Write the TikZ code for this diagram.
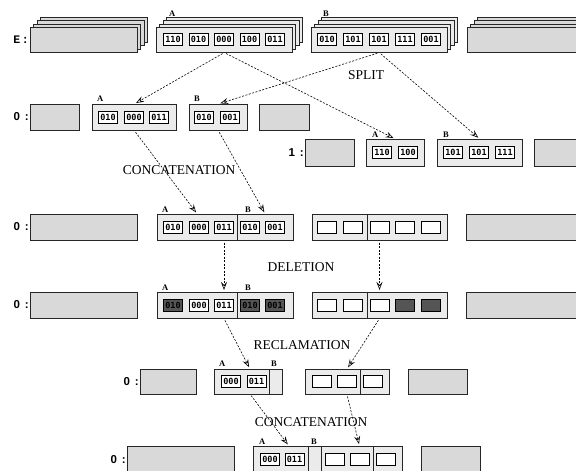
\documentclass[tikz,border=0pt]{standalone}
\usepackage{fontspec}
\setmainfont{Liberation Serif}
\newfontfamily\lsans{Liberation Sans}
\newfontfamily\cellmono{DejaVu Sans Mono}
\newfontfamily\emono{Liberation Mono}
\usetikzlibrary{arrows.meta}
\definecolor{gfill}{HTML}{D9D9D9}
\definecolor{lfill}{HTML}{EBEBEB}
\definecolor{dcell}{HTML}{555555}
\tikzset{
 gbox/.style={draw=black!85, line width=0.6pt, fill=gfill, inner sep=0, anchor=north west},
 lbox/.style={gbox, fill=lfill},
 cellbox/.style={draw=black, line width=0.8pt, fill=white, minimum width=19, minimum height=12, inner sep=0, font=\cellmono\bfseries\fontsize{8.5}{9}\selectfont},
 darkcell/.style={cellbox, fill=dcell},
 ablab/.style={font=\bfseries\fontsize{8.5}{9}\selectfont, inner sep=0, anchor=base west},
 rowlab/.style={font=\lsans\bfseries\fontsize{11.5}{12}\selectfont, inner sep=0, anchor=east},
 oplab/.style={font=\fontsize{13.5}{15}\selectfont, inner sep=0},
 arr/.style={line width=0.6pt, dash pattern=on 2pt off 1.5pt, -{Stealth[open,length=8pt,width=6pt,inset=3pt]}, shorten <=2pt, shorten >=2pt},
}
\newcommand{\stk}[5]{%
 \foreach \k in {3,2,1}{\node[#1, minimum width=#5, minimum height=25] (#2b\k) at ({#3+3.3*\k},{#4-3.3*\k}) {};}
 \node[#1, minimum width=#5, minimum height=25] (#2) at (#3,#4) {};}
\begin{document}
\begin{tikzpicture}[x=1pt,y=-1pt]
\useasboundingbox (0,0) rectangle (576,471);
\fill[white] (0,0) rectangle (576,471);
\clip (0,0) rectangle (576,471);

% ---- row E ----
\node[font=\emono\bfseries\fontsize{11.5}{12}\selectfont, inner sep=0, anchor=east] (lE) at (29,40) {E\hspace{1.5pt}:};
\stk{gbox}{stL}{30}{27}{107}
\stk{lbox}{stA}{156}{27}{136}
\stk{lbox}{stB}{311}{27}{136}
\stk{gbox}{stR}{467}{27}{140}
\node[cellbox] (eA1) at (173,39.5) {110};
\node[cellbox] (eA2) at (198.5,39.5) {010};
\node[cellbox] (eA3) at (224,39.5) {000};
\node[cellbox] (eA4) at (249.5,39.5) {100};
\node[cellbox] (eA5) at (275,39.5) {011};
\node[cellbox] (eB1) at (327,39.5) {010};
\node[cellbox] (eB2) at (353,39.5) {101};
\node[cellbox] (eB3) at (379,39.5) {101};
\node[cellbox] (eB4) at (405,39.5) {111};
\node[cellbox] (eB5) at (431,39.5) {001};
\node[ablab] (laE) at (169,16.5) {A};
\node[ablab] (lbE) at (323,16.5) {B};

% ---- row 0 (split) ----
\node[rowlab] (l0) at (29,117) {0\hspace{5pt}:};
\node[gbox, minimum width=49, minimum height=26] (r0L) at (30,104) {};
\node[lbox, minimum width=84, minimum height=26] (r0A) at (92,104) {};
\node[lbox, minimum width=58, minimum height=26] (r0B) at (189,104) {};
\node[gbox, minimum width=50, minimum height=26] (r0R) at (259,104) {};
\node[cellbox] (c0A1) at (108,117) {010};
\node[cellbox] (c0A2) at (134,117) {000};
\node[cellbox] (c0A3) at (159,117) {011};
\node[cellbox] (c0B1) at (204,117) {010};
\node[cellbox] (c0B2) at (230,117) {001};
\node[ablab] (la0) at (97,101.5) {A};
\node[ablab] (lb0) at (194,101.5) {B};

% ---- row 1 ----
\node[rowlab] (l1) at (304,153) {1\hspace{5pt}:};
\node[gbox, minimum width=49, minimum height=27] (r1L) at (305,139) {};
\node[lbox, minimum width=58, minimum height=27] (r1A) at (366,139) {};
\node[lbox, minimum width=85, minimum height=27] (r1B) at (437,139) {};
\node[gbox, minimum width=60, minimum height=27] (r1R) at (534,139) {};
\node[cellbox] (c1A1) at (382,152.5) {110};
\node[cellbox] (c1A2) at (408,152.5) {100};
\node[cellbox] (c1B1) at (453,152.5) {101};
\node[cellbox] (c1B2) at (479,152.5) {101};
\node[cellbox] (c1B3) at (505,152.5) {111};
\node[ablab] (la1) at (372,137) {A};
\node[ablab] (lb1) at (443,137) {B};

% ---- row 2 ----
\node[rowlab] (l2) at (29,227) {0\hspace{5pt}:};
\node[gbox, minimum width=107, minimum height=26] (r2L) at (30,214) {};
\node[lbox, minimum width=80, minimum height=26] (r2A) at (157,214) {};
\node[lbox, minimum width=56, minimum height=26] (r2B) at (237,214) {};
\node[lbox, minimum width=55, minimum height=26] (r2C) at (312,214) {};
\node[lbox, minimum width=80, minimum height=26] (r2D) at (367,214) {};
\node[gbox, minimum width=120, minimum height=26] (r2R) at (466,214) {};
\node[cellbox] (c2A1) at (173,227) {010};
\node[cellbox] (c2A2) at (199,227) {000};
\node[cellbox] (c2A3) at (224,227) {011};
\node[cellbox] (c2B1) at (250,227) {010};
\node[cellbox] (c2B2) at (275,227) {001};
\node[cellbox] (c2C1) at (327,227) {};
\node[cellbox] (c2C2) at (353,227) {};
\node[cellbox] (c2D1) at (379.5,227) {};
\node[cellbox] (c2D2) at (405,227) {};
\node[cellbox] (c2D3) at (431,227) {};
\node[ablab] (la2) at (162,212) {A};
\node[ablab] (lb2) at (245,212) {B};

% ---- row 3 ----
\node[rowlab] (l3) at (29,305) {0\hspace{5pt}:};
\node[gbox, minimum width=107, minimum height=26] (r3L) at (30,292) {};
\node[lbox, minimum width=80, minimum height=26] (r3A) at (157,292) {};
\node[lbox, minimum width=56, minimum height=26] (r3B) at (237,292) {};
\node[lbox, minimum width=55, minimum height=26] (r3C) at (312,292) {};
\node[lbox, minimum width=80, minimum height=26] (r3D) at (367,292) {};
\node[gbox, minimum width=120, minimum height=26] (r3R) at (466,292) {};
\node[darkcell] (c3A1) at (173,305) {010};
\node[cellbox] (c3A2) at (199,305) {000};
\node[cellbox] (c3A3) at (224,305) {011};
\node[darkcell] (c3B1) at (250,305) {010};
\node[darkcell] (c3B2) at (275,305) {001};
\node[cellbox] (c3C1) at (327,305) {};
\node[cellbox] (c3C2) at (353,305) {};
\node[cellbox] (c3D1) at (379.5,305) {};
\node[darkcell] (c3D2) at (405,305) {};
\node[darkcell] (c3D3) at (431,305) {};
\node[ablab] (la3) at (162,290) {A};
\node[ablab] (lb3) at (245,290) {B};

% ---- row 4 ----
\node[rowlab] (l4) at (139,382) {0\hspace{5pt}:};
\node[gbox, minimum width=56, minimum height=25] (r4L) at (140,369) {};
\node[lbox, minimum width=55, minimum height=25] (r4A) at (214,369) {};
\node[lbox, minimum width=13, minimum height=25] (r4B) at (269,369) {};
\node[lbox, minimum width=55, minimum height=25] (r4C) at (305,369) {};
\node[lbox, minimum width=29, minimum height=25] (r4D) at (360,369) {};
\node[gbox, minimum width=59, minimum height=25] (r4R) at (408,369) {};
\node[cellbox] (c4A1) at (231,381.5) {000};
\node[cellbox] (c4A2) at (256.5,381.5) {011};
\node[cellbox] (c4C1) at (322,381.5) {};
\node[cellbox] (c4C2) at (347,381.5) {};
\node[cellbox] (c4D1) at (373,381.5) {};
\node[ablab] (la4) at (219,366.5) {A};
\node[ablab] (lb4) at (271,366.5) {B};

% ---- row 5 ----
\node[rowlab] (l5) at (126,460) {0\hspace{5pt}:};
\node[gbox, minimum width=107, minimum height=26] (r5L) at (127,446) {};
\node[lbox, minimum width=55, minimum height=26] (r5A) at (253,446) {};
\node[lbox, minimum width=13, minimum height=26] (r5B) at (308,446) {};
\node[lbox, minimum width=52, minimum height=26] (r5C) at (321,446) {};
\node[lbox, minimum width=29, minimum height=26] (r5D) at (373,446) {};
\node[gbox, minimum width=59, minimum height=26] (r5R) at (421,446) {};
\node[cellbox] (c5A1) at (270,459) {000};
\node[cellbox] (c5A2) at (294.5,459) {011};
\node[cellbox] (c5C1) at (334.5,459) {};
\node[cellbox] (c5C2) at (359.5,459) {};
\node[cellbox] (c5D1) at (385.5,459) {};
\node[ablab] (la5) at (259,444) {A};
\node[ablab] (lb5) at (311,444) {B};

% ---- operation labels ----
\node[oplab] (opS) at (366,75) {SPLIT};
\node[oplab] (opC1) at (179,170) {CONCATENATION};
\node[oplab] (opD) at (301,267) {DELETION};
\node[oplab] (opR) at (302,345) {RECLAMATION};
\node[oplab] (opC2) at (311,422) {CONCATENATION};

% ---- arrows ----
\draw[arr] (stA.south) -- (r0A.north);
\draw[arr] (stA.south) -- (r1A.north);
\draw[arr] (stB.south) -- (r0B.north);
\draw[arr] (stB.south) -- (r1B.north);
\draw[arr] (r0A.south) -- (r2A.north);
\draw[arr] (r0B.south) -- (r2B.north);
\draw[arr] (c2A3 |- r2A.south) -- (c3A3 |- r3A.north);
\draw[arr] (c2D1 |- r2D.south) -- (c3D1 |- r3D.north);
\coordinate (q1) at (250,369);
\draw[arr] (c3A3 |- r3A.south) -- (q1);
\draw[arr] (c3D1 |- r3D.south) -- (c4C2 |- r4C.north);
\coordinate (q2) at (250,394);
\coordinate (q3) at (289,446);
\draw[arr] (q2) -- (q3);
\draw[arr] (c4C2 |- r4C.south) -- (c5C2 |- r5C.north);
\end{tikzpicture}
\end{document}
